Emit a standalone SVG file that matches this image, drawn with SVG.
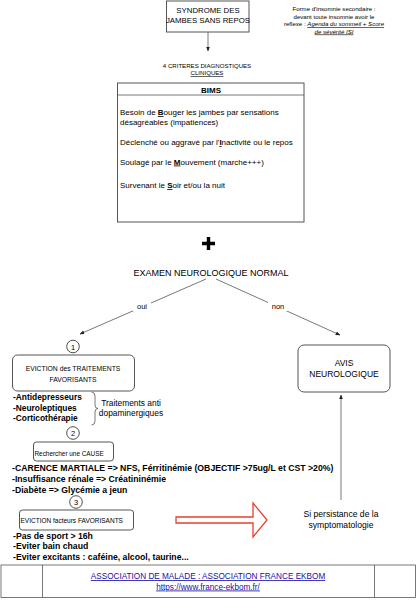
<svg xmlns="http://www.w3.org/2000/svg" width="417" height="600" viewBox="0 0 417 600">
<style>
text{font-family:"Liberation Sans",Arial,sans-serif;fill:#000}
.box{fill:#fff;stroke:#555;stroke-width:1}
.line{stroke:#555;stroke-width:0.8;fill:none}
.s6{font-size:6.1px}
.s7{font-size:7.5px}
.s8{font-size:8px}
.b8{font-size:8.4px;font-weight:bold}
.b9{font-size:8.7px;font-weight:bold}
.c{text-anchor:middle}
.lnk{fill:#1a0dab;text-decoration:underline;font-size:8.2px;text-anchor:middle}
</style>
<defs>
<marker id="ah" viewBox="0 0 10 10" refX="9" refY="5" markerWidth="6" markerHeight="6" orient="auto"><path d="M0,1 L10,5 L0,9 z" fill="#222"/></marker>
</defs>
<rect width="417" height="600" fill="#fff"/>
<g id="connectors">
<line class="line" x1="208" y1="32" x2="208" y2="51" marker-end="url(#ah)"/>
<line class="line" x1="206" y1="279" x2="80" y2="334" marker-end="url(#ah)"/>
<line class="line" x1="216" y1="279" x2="340" y2="335" marker-end="url(#ah)"/>
<line class="line" x1="341" y1="500" x2="341" y2="395" marker-end="url(#ah)"/>
<rect x="133" y="301" width="18" height="10" fill="#fff"/>
<text x="142" y="309" class="s7 c">oui</text>
<rect x="268" y="301" width="20" height="10" fill="#fff"/>
<text x="278" y="309" class="s7 c">non</text>
<path d="M176,517 L253,517 L253,503 L267,520 L253,537 L253,523 L176,523 Z" fill="#fff" stroke="#e8402a" stroke-width="1.3"/>
</g>
<g id="syndrome">
<rect class="box" x="166.5" y="1" width="82.5" height="31"/>
<text x="208" y="13" class="c" font-size="7.8">SYNDROME DES</text>
<text x="208" y="23" class="c" font-size="7.8">JAMBES SANS REPOS</text>
</g>
<g id="note">
<text x="334" y="11" class="s6 c">Forme d'insomnie secondaire  :</text>
<text x="334" y="18.5" class="s6 c">devant toute insomnie avoir le</text>
<text x="334" y="26" class="s6 c">reflexe : <tspan font-style="italic" text-decoration="underline">Agenda du sommeil + Score</tspan></text>
<text x="334" y="33.5" class="s6 c" font-style="italic" text-decoration="underline">de sévérité ISI</text>
</g>
<g id="criteres">
<text x="207" y="68" class="s6 c">4  CRITERES DIAGNOSTIQUES</text>
<text x="207" y="75" class="s6 c" text-decoration="underline">CLINIQUES</text>
</g>
<g id="bims">
<rect class="box" x="117.5" y="83" width="186.5" height="139"/>
<line class="line" x1="117.5" y1="95" x2="304" y2="95"/>
<text x="211" y="92.5" class="c" font-size="8" font-weight="bold">BIMS</text>
<text x="120" y="115" class="s8">Besoin de <tspan font-weight="bold" text-decoration="underline">B</tspan>ouger les jambes par sensations</text>
<text x="120" y="125" class="s8">désagréables (impatiences)</text>
<text x="120" y="145" class="s8">Déclenché ou aggravé par l'<tspan font-weight="bold" text-decoration="underline">I</tspan>nactivité ou le repos</text>
<text x="120" y="164.5" class="s8">Soulagé par le <tspan font-weight="bold" text-decoration="underline">M</tspan>ouvement (marche+++)</text>
<text x="120" y="188" class="s8">Survenant le <tspan font-weight="bold" text-decoration="underline">S</tspan>oir et/ou la nuit</text>
</g>
<g id="plus">
<path d="M202,243.5 H215 M208.5,237 V250" stroke="#000" stroke-width="3.4"/>
</g>
<g id="examen">
<text x="211" y="276" class="c" font-size="9">EXAMEN NEUROLOGIQUE NORMAL</text>
</g>
<g id="step1">
<circle cx="73" cy="346.5" r="6.3" fill="#fff" stroke="#222" stroke-width="0.8"/>
<text x="73" y="349.5" class="s7 c">1</text>
<rect class="box" x="12.5" y="355" width="122" height="36" rx="5"/>
<text x="73" y="370.5" class="c" font-size="6.8">EVICTION des TRAITEMENTS</text>
<text x="73" y="381.5" class="c" font-size="6.8">FAVORISANTS</text>
<text x="13" y="400" class="b8">-Antidepresseurs</text>
<text x="13" y="410.5" class="b8">-Neuroleptiques</text>
<text x="13" y="421" class="b8">-Corticothérapie</text>
<path d="M91.5,392 Q95,392 95,396 V405 Q95,408.5 98,408.5 Q95,408.5 95,412 V421 Q95,425 91.5,425" fill="none" stroke="#555" stroke-width="0.8"/>
<text x="131" y="405.5" class="c" font-size="8.4">Traitements anti</text>
<text x="131" y="415.5" class="c" font-size="8.4">dopaminergiques</text>
</g>
<g id="step2">
<circle cx="73" cy="433" r="6.3" fill="#fff" stroke="#222" stroke-width="0.8"/>
<text x="73" y="436" class="s7 c">2</text>
<rect class="box" x="33.5" y="442" width="80" height="19" rx="3"/>
<text x="34.5" y="455.5" font-size="6.4">Rechercher une CAUSE</text>
<text x="12" y="471" class="b9">-CARENCE MARTIALE =&gt; NFS, Férritinémie (OBJECTIF &gt;75ug/L et CST &gt;20%)</text>
<text x="12" y="482" class="b9">-Insuffisance rénale =&gt; Créatininémie</text>
<text x="12" y="492.5" class="b9">-Diabète =&gt; Glycémie a jeun</text>
</g>
<g id="step3">
<circle cx="76" cy="502" r="6.3" fill="#fff" stroke="#222" stroke-width="0.8"/>
<text x="76" y="505" class="s7 c">3</text>
<rect class="box" x="19.5" y="510" width="114" height="20" rx="3"/>
<text x="20.5" y="522.5" font-size="6.5">EVICTION facteurs FAVORISANTS</text>
<text x="13" y="538.5" class="b9">-Pas de sport &gt; 16h</text>
<text x="13" y="549" class="b9">-Eviter bain chaud</text>
<text x="13" y="559.5" class="b9">-Eviter excitants : caféine, alcool, taurine...</text>
</g>
<g id="avis">
<rect class="box" x="298" y="345" width="92" height="47" rx="6"/>
<text x="344" y="366" class="c" font-size="8.5">AVIS</text>
<text x="344" y="376.5" class="c" font-size="8.5">NEUROLOGIQUE</text>
</g>
<g id="persistance">
<text x="341" y="517" class="c" font-size="8.6">Si persistance de la</text>
<text x="341" y="528" class="c" font-size="8.6">symptomatologie</text>
</g>
<g id="footer">
<rect x="1" y="565" width="414.5" height="32.5" fill="#fff" stroke="#555" stroke-width="0.8"/>
<line class="line" x1="42.5" y1="565" x2="42.5" y2="597.5"/>
<line class="line" x1="374.5" y1="565" x2="374.5" y2="597.5"/>
<text x="208" y="579" class="lnk">ASSOCIATION DE MALADE : ASSOCIATION FRANCE EKBOM</text>
<text x="208" y="589.5" class="lnk">https://www.france-ekbom.fr/</text>
</g>
</svg>
